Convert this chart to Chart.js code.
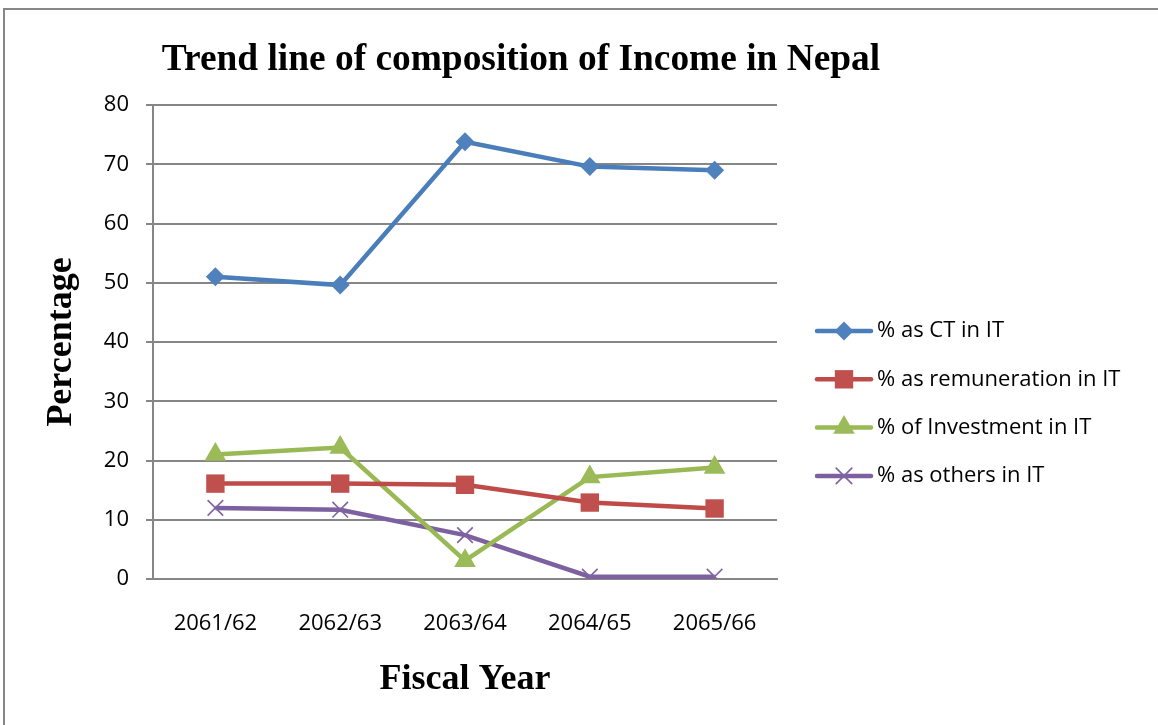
<!DOCTYPE html>
<html>
<head>
<meta charset="utf-8">
<script src="https://cdn.jsdelivr.net/npm/chart.js@4/dist/chart.umd.min.js"></script>
<style>
  html, body { margin: 0; padding: 0; background: #fff; overflow: hidden; }
  #frame { position: absolute; left: 3px; top: 8px; width: 1300px; height: 900px; border: 2px solid #878787; }
  #myChart { position: absolute; left: 0; top: 0; }
</style>
</head>
<body>
<div id="frame"></div>
<canvas id="myChart" width="1158" height="725"></canvas>
<script>
var fiscalYears = ["2061/62", "2062/63", "2063/64", "2064/65", "2065/66"]
var ctShare = [51.0, 49.6, 73.8, 69.6, 69.0]
var remunerationShare = [16.1, 16.1, 15.9, 12.9, 11.9]
var investmentShare = [21.0, 22.2, 3.1, 17.2, 18.8]
var othersShare = [12.0, 11.7, 7.4, 0.4, 0.4]
var yTicks = [0, 10, 20, 30, 40, 50, 60, 70, 80]

var seriesNames = ["% as CT in IT", "% as remuneration in IT", "% of Investment in IT", "% as others in IT"]

var titleText = "Trend line of composition of Income in Nepal"
var gridGray = "#868686"
var tickFont = { family: "'Open Sans'", size: 22 }
var serifBold = "'Liberation Serif', 'Times New Roman', serif"

// title above the plot and the key on the right side
var headerAndKey = {
  id: "headerAndKey",
  afterDraw: function(chart) {
    var c = chart.ctx
    c.save()
    c.fillStyle = "#000"
    c.font = "bold 37.4px " + serifBold
    c.textAlign = "center"
    c.textBaseline = "middle"
    c.fillText(titleText, 521, 60)

    var sets = chart.data.datasets
    for (var i = 0; i < sets.length; i++) {
      var ds = sets[i]
      var y = 331 + i * 48.3
      c.strokeStyle = ds.borderColor
      c.lineWidth = ds.borderWidth
      c.lineCap = "round"
      c.beginPath()
      c.moveTo(817, y)
      c.lineTo(871, y)
      c.stroke()

      c.fillStyle = ds.pointBackgroundColor
      c.strokeStyle = ds.pointBorderColor
      c.lineWidth = ds.pointBorderWidth
      Chart.helpers.drawPoint(c, {
        pointStyle: ds.pointStyle,
        radius: ds.pointRadius,
        rotation: 0,
        borderWidth: ds.pointBorderWidth
      }, 844, y)

      c.fillStyle = "#000"
      c.font = "22px 'Open Sans'"
      c.textAlign = "left"
      c.textBaseline = "middle"
      c.fillText(ds.label, 877, y)
    }
    c.restore()
  }
}

function makeSeries(name, values, lineColor, markColor, style, radius) {
  var cross = style === "crossRot"
  return {
    label: name,
    data: values,
    // straight segments between the years
    tension: 0,
    fill: false,
    borderColor: lineColor,
    borderWidth: 4.5,
    pointStyle: style,
    pointRadius: radius,
    pointBackgroundColor: markColor,
    pointBorderColor: markColor,
    pointBorderWidth: cross ? 1.6 : 0
  }
}

function main() {
  var ctx = document.getElementById("myChart")
  new Chart(ctx, {
    type: "line",
    data: {
      labels: fiscalYears,
      datasets: [
        makeSeries(seriesNames[0], ctShare, "#4A7EBB", "#4F81BD", "rectRot", 9.5),
        makeSeries(seriesNames[1], remunerationShare, "#BE4B48", "#C0504D", "rect", 13),
        makeSeries(seriesNames[2], investmentShare, "#98B954", "#9BBB59", "triangle", 12.5),
        makeSeries(seriesNames[3], othersShare, "#7D60A0", "#8064A2", "crossRot", 11)
      ]
    },
    options: {
      responsive: false,
      animation: false,
      devicePixelRatio: 1,
      layout: { padding: { left: 0, top: 105, right: 381, bottom: 0 } },
      plugins: {
        legend: { display: false },
        title: { display: false },
        tooltip: { enabled: false }
      },
      scales: {
        x: {
          type: "category",
          offset: true,
          grid: { display: false },
          border: { display: true, color: gridGray, width: 2 },
          ticks: { font: tickFont, color: "#000", padding: 24 },
          title: { display: true, text: "Fiscal Year", color: "#000", font: { family: serifBold, size: 36, weight: "bold" }, padding: { top: 0, bottom: 24 } },
          afterFit: function(scale) { scale.height = 146 }
        },
        y: {
          min: 0,
          max: 80,
          afterBuildTicks: function(scale) {
            scale.ticks = yTicks.map(function(v) { return { value: v } })
          },
          grid: { color: gridGray, lineWidth: 2, tickLength: 7 },
          border: { display: true, color: gridGray, width: 2 },
          ticks: { font: tickFont, color: "#000", padding: 17 },
          title: { display: true, text: "Percentage", color: "#000", font: { family: serifBold, size: 36, weight: "bold" }, padding: { top: 40, bottom: 0 } },
          afterFit: function(scale) { scale.width = 153 }
        }
      }
    },
    plugins: [headerAndKey]
  })
}

main()
</script>
</body>
</html>
